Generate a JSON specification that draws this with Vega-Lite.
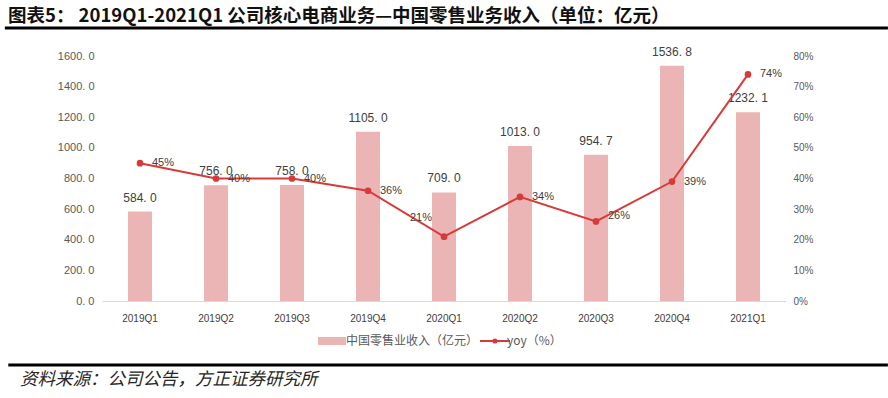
{
  "$schema": "https://vega.github.io/schema/vega-lite/v6.json",
  "width": 684,
  "height": 245,
  "autosize": {"type": "none"},
  "padding": {"left": 102, "top": 56, "right": 102, "bottom": 97},
  "background": "white",
  "title": {
    "text": "图表5： 2019Q1-2021Q1 公司核心电商业务—中国零售业务收入（单位：亿元）",
    "anchor": "start",
    "frame": "group",
    "dx": -94,
    "offset": 1,
    "font": "Noto Sans CJK SC",
    "fontSize": 18.5,
    "fontWeight": "bold",
    "color": "#111111"
  },
  "config": {
    "view": {"stroke": null},
    "font": "Liberation Sans",
    "legend": {"layout": {"bottom": {"anchor": "middle", "direction": "horizontal", "margin": 10}}}
  },
  "data": {
    "values": [
      {"q": "2019Q1", "rev": 584.0, "yoy": 0.45},
      {"q": "2019Q2", "rev": 756.0, "yoy": 0.40},
      {"q": "2019Q3", "rev": 758.0, "yoy": 0.40},
      {"q": "2019Q4", "rev": 1105.0, "yoy": 0.36},
      {"q": "2020Q1", "rev": 709.0, "yoy": 0.21},
      {"q": "2020Q2", "rev": 1013.0, "yoy": 0.34},
      {"q": "2020Q3", "rev": 954.7, "yoy": 0.26},
      {"q": "2020Q4", "rev": 1536.8, "yoy": 0.39},
      {"q": "2021Q1", "rev": 1232.1, "yoy": 0.74}
    ]
  },
  "layer": [
    {
      "encoding": {
        "x": {
          "field": "q",
          "type": "ordinal",
          "sort": null,
          "scale": {"type": "band", "paddingInner": 0, "paddingOuter": 0},
          "axis": {
            "title": null,
            "domainColor": "#d9d9d9",
            "domainWidth": 1,
            "ticks": false,
            "labelPadding": 12,
            "labelFontSize": 10,
            "labelColor": "#404040",
            "labelAngle": 0
          }
        }
      },
      "layer": [
        {
          "encoding": {
            "y": {
              "field": "rev",
              "type": "quantitative",
              "scale": {"domain": [0, 1600], "nice": false},
              "axis": {
                "title": null,
                "values": [0, 200, 400, 600, 800, 1000, 1200, 1400, 1600],
                "tickCount": 9,
                "labelExpr": "replace(format(datum.value, '.1f'), '.', '. ')",
                "labelOverlap": false,
                "grid": false,
                "domain": false,
                "ticks": false,
                "labelPadding": 8,
                "labelFontSize": 11,
                "labelColor": "#595959"
              }
            }
          },
          "layer": [
            {
              "mark": {"type": "bar", "size": 24},
              "encoding": {
                "fill": {
                  "datum": "中国零售业收入（亿元）",
                  "type": "nominal",
                  "scale": {"range": ["#ebb5b5"]},
                  "legend": {
                    "title": null,
                    "orient": "bottom",
                    "offset": 12,
                    "symbolType": "M-3.5,-1H3.5V1H-3.5Z",
                    "symbolSize": 64,
                    "symbolStrokeWidth": 0,
                    "labelFont": "Noto Sans CJK SC",
                    "labelFontSize": 12,
                    "labelColor": "#595959",
                    "labelOffset": 8
                  }
                }
              }
            },
            {
              "transform": [{"calculate": "replace(format(datum.rev, '.1f'), '.', '. ')", "as": "revLabel"}],
              "mark": {"type": "text", "baseline": "bottom", "dy": -7, "fontSize": 12, "color": "#404040"},
              "encoding": {
                "text": {"field": "revLabel", "type": "nominal"}
              }
            }
          ]
        },
        {
          "encoding": {
            "y": {
              "field": "yoy",
              "type": "quantitative",
              "scale": {"domain": [0, 0.8], "nice": false},
              "axis": {
                "title": null,
                "orient": "right",
                "values": [0, 0.1, 0.2, 0.3, 0.4, 0.5, 0.6, 0.7, 0.8],
                "format": ".0%",
                "labelOverlap": false,
                "grid": false,
                "domain": false,
                "ticks": false,
                "labelPadding": 7,
                "labelFontSize": 10,
                "labelColor": "#595959"
              }
            }
          },
          "layer": [
            {
              "mark": {"type": "line", "strokeWidth": 2, "point": {"filled": true, "size": 22, "color": "#d83a3a"}},
              "encoding": {
                "stroke": {
                  "datum": "yoy（%）",
                  "type": "nominal",
                  "scale": {"range": ["#d83a3a"]},
                  "legend": {
                    "title": null,
                    "orient": "bottom",
                    "offset": 12,
                    "symbolType": "M-3.75,0H3.75M0.4,0A0.4,0.4,0,1,1,-0.4,0A0.4,0.4,0,1,1,0.4,0Z",
                    "symbolSize": 64,
                    "symbolStrokeWidth": 2,
                    "symbolFillColor": "#d83a3a",
                    "labelFont": "Noto Sans CJK SC",
                    "labelFontSize": 12,
                    "labelColor": "#595959",
                    "labelOffset": 6
                  }
                }
              }
            },
            {
              "transform": [{"filter": "datum.q != '2020Q1' && datum.q != '2020Q3'"}],
              "mark": {"type": "text", "align": "left", "baseline": "middle", "dx": 12, "fontSize": 11, "color": "#404040"},
              "encoding": {
                "text": {"field": "yoy", "type": "quantitative", "format": ".0%"}
              }
            },
            {
              "transform": [{"filter": "datum.q == '2020Q3'"}],
              "mark": {"type": "text", "align": "left", "baseline": "middle", "dx": 12, "dy": -5, "fontSize": 11, "color": "#404040"},
              "encoding": {
                "text": {"field": "yoy", "type": "quantitative", "format": ".0%"}
              }
            },
            {
              "transform": [{"filter": "datum.q == '2020Q1'"}],
              "mark": {"type": "text", "align": "right", "baseline": "middle", "dx": -12, "dy": -19, "fontSize": 11, "color": "#404040"},
              "encoding": {
                "text": {"field": "yoy", "type": "quantitative", "format": ".0%"}
              }
            }
          ]
        }
      ],
      "resolve": {"scale": {"y": "independent"}}
    },
    {
      "data": {"values": [{"note": "资料来源：公司公告，方正证券研究所"}]},
      "encoding": {
        "x": {"datum": -0.142, "type": "quantitative", "scale": {"domain": [0, 1], "nice": false, "zero": false}, "axis": null},
        "y": {"datum": 1.114, "type": "quantitative", "scale": {"domain": [0, 1], "nice": false, "zero": false}, "axis": null}
      },
      "layer": [
        {
          "mark": {"type": "rule", "strokeWidth": 3, "color": "#000000"},
          "encoding": {"x2": {"datum": 1.149}}
        },
        {
          "mark": {"type": "rule", "strokeWidth": 3, "color": "#000000"},
          "encoding": {
            "x": {"datum": -0.137, "type": "quantitative"},
            "x2": {"datum": 1.149},
            "y": {"datum": -0.261, "type": "quantitative"}
          }
        },
        {
          "mark": {"type": "text", "align": "left", "baseline": "middle", "font": "Noto Sans CJK SC", "fontStyle": "italic", "fontSize": 17.5, "color": "#262626"},
          "encoding": {
            "x": {"datum": -0.12, "type": "quantitative"},
            "y": {"datum": -0.322, "type": "quantitative"},
            "text": {"field": "note"}
          }
        }
      ]
    }
  ],
  "resolve": {"scale": {"x": "independent", "y": "independent"}}
}
